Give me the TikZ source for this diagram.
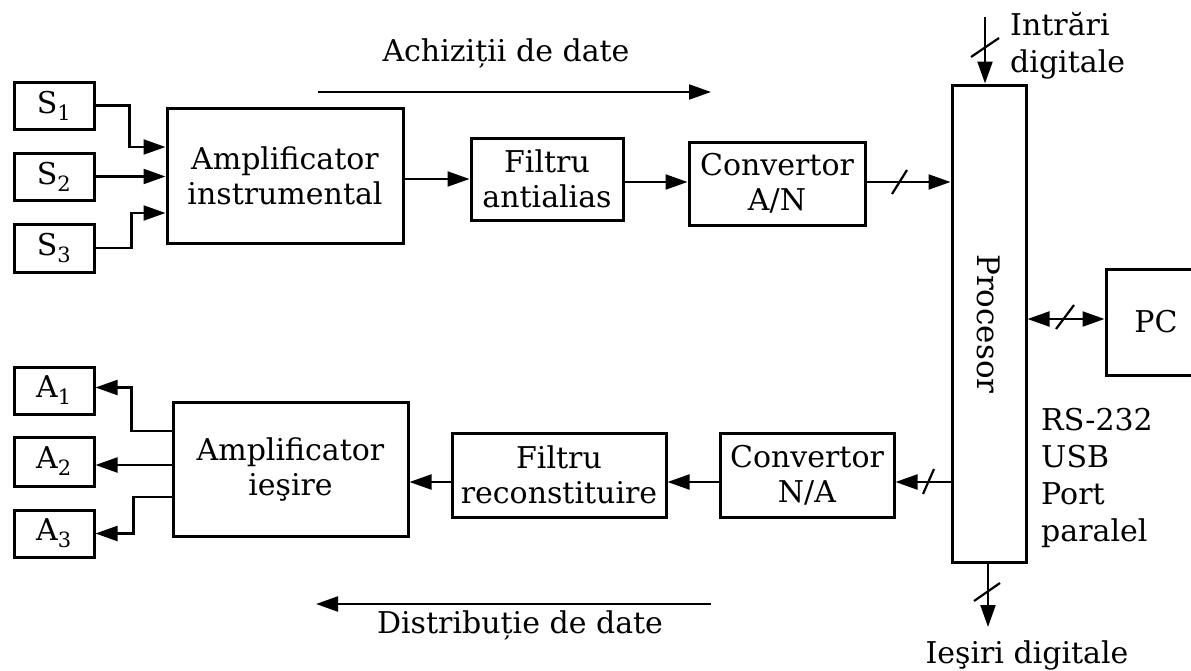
\documentclass[tikz,border=0pt]{standalone}
\usepackage{fontspec}
\setmainfont{DejaVu Serif}
\usetikzlibrary{arrows.meta,calc}
\begin{document}
\begin{tikzpicture}[x=1pt,y=-1pt,
  box/.style={draw,line width=3pt,inner sep=0pt,align=center,font=\fontsize{30}{35}\selectfont},
  lbl/.style={inner sep=0pt,align=left,font=\fontsize{30}{37}\selectfont},
  tip/.tip={Triangle[length=22pt,width=15pt]},
  arr/.style={line width=2.2pt,-tip},
  darr/.style={line width=2.2pt,tip-tip},
  slash/.style={line width=2.2pt}]
\clip (0,0) rectangle (1191,670);
\fill[white] (0,0) rectangle (1191,670);
% source boxes
\node[box,minimum width=80pt,minimum height=47pt] (S1) at (54,105.5) {S\textsubscript{1}};
\node[box,minimum width=80pt,minimum height=47pt] (S2) at (54,176.5) {S\textsubscript{2}};
\node[box,minimum width=80pt,minimum height=48pt] (S3) at (54,248) {S\textsubscript{3}};
\node[box,minimum width=236pt,minimum height=135pt] (amp) at (285,175.5) {Amplificator\\instrumental};
\node[box,minimum width=152pt,minimum height=82pt] (fa) at (547,179) {Filtru\\antialias};
\node[box,minimum width=176pt,minimum height=83pt] (an) at (777,183.5) {Convertor\\A/N};
\node[box,minimum width=74pt,minimum height=477pt] (proc) at (989,323.5) {};
\node[font=\fontsize{31}{32}\selectfont,rotate=-90,inner sep=0pt] (proct) at (989,324) {Procesor};
\node[box,minimum width=100pt,minimum height=106pt,text width=100pt] (pc) at (1156,322) {PC};
% output side
\node[box,minimum width=235pt,minimum height=134pt] (amp2) at (290.5,469) {Amplificator\\ieşire};
\node[box,minimum width=214pt,minimum height=84pt] (fr) at (559,475) {Filtru\\reconstituire};
\node[box,minimum width=174pt,minimum height=84pt] (na) at (807,475) {Convertor\\N/A};
\node[box,minimum width=80pt,minimum height=47pt] (A1) at (54,390.5) {A\textsubscript{1}};
\node[box,minimum width=80pt,minimum height=49pt] (A2) at (54,461.5) {A\textsubscript{2}};
\node[box,minimum width=80pt,minimum height=47pt] (A3) at (54,533.5) {A\textsubscript{3}};
% labels
\node[lbl] (acq) at (506,53) {Achiziții de date};
\node[lbl] (dist) at (520,625) {Distribuție de date};
\node[lbl,anchor=west] (intr) at (1010,46) {Intrări\\digitale};
\node[lbl,anchor=north west] (rs) at (1041,408) {RS-232\\USB\\Port\\paralel};
\node[lbl] (ies) at (1027,655) {Ieşiri digitale};
% coordinates for free ends
\coordinate (ac1) at (318,92);
\coordinate (ac2) at (711,92);
\coordinate (d1) at (711,604);
\coordinate (d2) at (316,604);
\coordinate (inT) at (985,17);
\coordinate (outB) at (988,627);
% connectors input side
\draw[arr] (S1.east) -- ++(34,0) |- ($(amp.west)+(0,-28.5)$);
\draw[arr] (S2.east) -- (S2.east -| amp.west);
\draw[arr] (S3.east) -- ++(36,0) |- ($(amp.west)+(0,37.5)$);
\draw[arr] (fa.west -| amp.east) -- (fa.west);
\draw[arr] ($(fa.east)+(0,3)$) -- ($(fa.east -| an.west)+(0,3)$);
\draw[arr] ($(an.east)+(0,-1.5)$) -- ($(an.east -| proc.west)+(0,-1.5)$);
\draw[slash] (892,194) -- (907,170);
% processor I/O
\draw[arr] (inT) -- (inT |- proc.north);
\draw[slash] (971,57) -- (999,38);
\draw[arr] (proc.south -| outB) -- (outB);
\draw[slash] (974,601) -- (1000,583);
\draw[darr] ($(proc.east)+(0,-4.5)$) -- ($(pc.west)+(0,-3)$);
\draw[slash] (1056,329) -- (1074,305);
% output side
\draw[arr] ($(proc.west |- na.east)+(0,7)$) -- ($(na.east)+(0,7)$);
\draw[slash] (923,494) -- (934,469);
\draw[arr] ($(na.west)+(0,7)$) -- ($(na.west -| fr.east)+(0,7)$);
\draw[arr] ($(fr.west)+(0,7)$) -- ($(fr.west -| amp2.east)+(0,7)$);
\draw[arr] ($(amp2.west)+(0,-38)$) -- ++(-40,0) |- ($(A1.east)+(0,-3)$);
\draw[arr] ($(A2.east -| amp2.west)+(0,3.5)$) -- ($(A2.east)+(0,3.5)$);
\draw[arr] ($(amp2.west)+(0,28)$) -- ++(-38,0) |- (A3.east);
% flow arrows
\draw[arr] (ac1) -- (ac2);
\draw[arr] (d1) -- (d2);
\end{tikzpicture}
\end{document}
